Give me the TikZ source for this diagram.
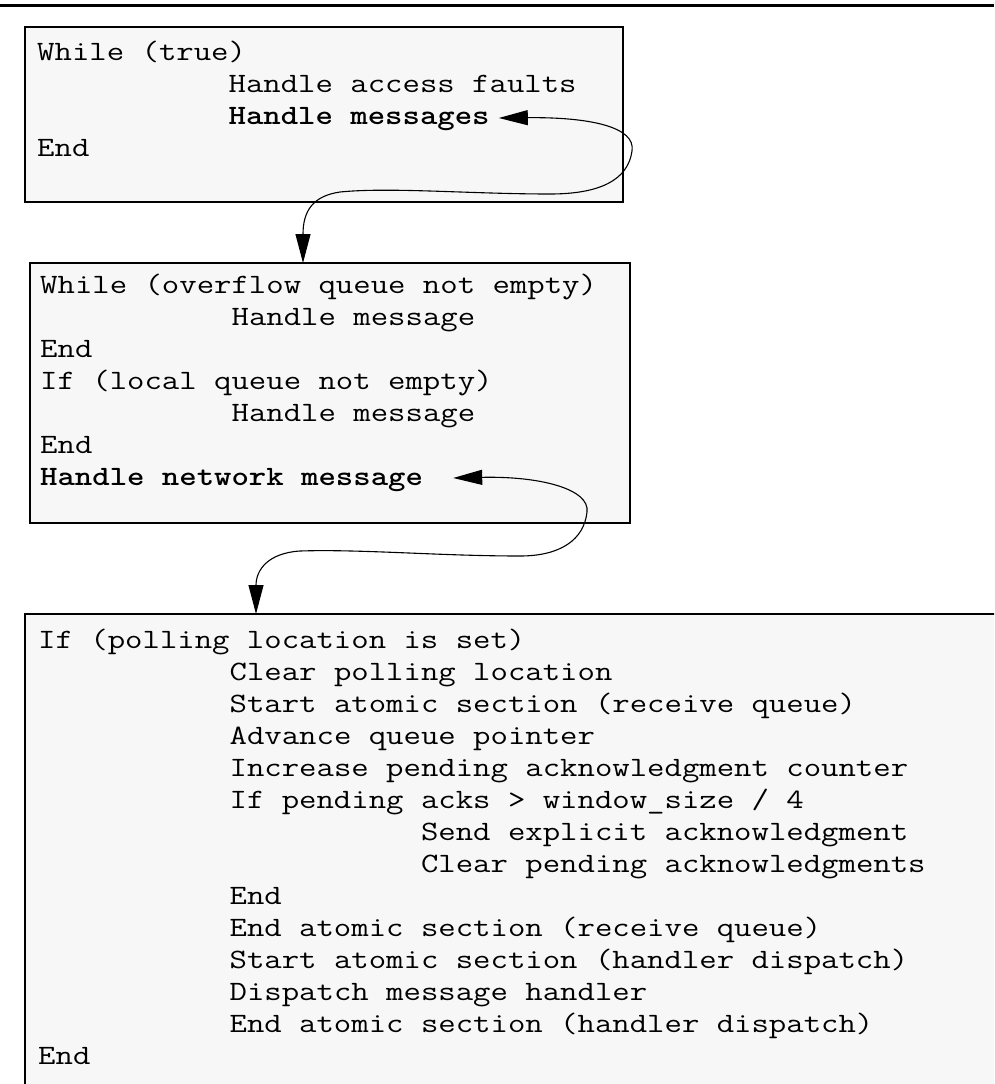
\documentclass[tikz,border=0pt]{standalone}
\usepackage{graphicx}
\usetikzlibrary{arrows.meta,calc}
\definecolor{boxfill}{RGB}{247,247,247}
\newlength\chwr
\newlength\chwb
\newcommand{\codefont}{\ttfamily\fontsize{28}{32}\selectfont}
\newcommand{\codeR}[1]{\scalebox{\xsr}[1]{\codefont #1}}
\newcommand{\codeB}[1]{\scalebox{\xsb}[1]{\codefont\bfseries #1}}
\begin{document}
\settowidth\chwr{\codefont M}%
\settowidth\chwb{\codefont\bfseries M}%
\pgfmathsetmacro\xsr{17.4/\chwr}%
\pgfmathsetmacro\xsb{17.4/\chwb}%
\begin{tikzpicture}[x=1pt,y=-1pt]
\useasboundingbox (0,0) rectangle (994,1084);
\tikzset{
  code/.style={anchor=base west, inner sep=0pt},
  box/.style={draw=black, line width=2.2pt, fill=boxfill, inner sep=0pt, outer sep=0pt, anchor=north west},
  conn/.style={line width=1.1pt, {Triangle[length=29pt,width=15pt]}-{Triangle[length=29pt,width=15pt]}},
}
% top rule
\draw[line width=3.5pt] (0,5.5) -- (994,5.5);
% boxes
\node[box, minimum width=598pt, minimum height=175pt] (box1) at (25,27) {};
\node[box, minimum width=600pt, minimum height=260pt] (box2) at (30,263) {};
\begin{scope}
\clip (0,0) rectangle (994,1084);
\node[fill=boxfill, inner sep=0pt, outer sep=0pt, anchor=north west, minimum width=1000pt, minimum height=500pt] (box3) at (25,614) {};
\draw[line width=2.2pt] (box3.south west) -- (box3.north west) -- (box3.north east);
\end{scope}
% box 1 text
\node[code] (l11) at (37,60) {\codeR{While (true)}};
\node[code] (l12) at (228.4,92) {\codeR{Handle access faults}};
\node[code] (hm) at (228.4,124) {\codeB{Handle messages}};
\node[code] (l14) at (37,156) {\codeR{End}};
% box 2 text
\node[code] (l21) at (40,293) {\codeR{While (overflow queue not empty)}};
\node[code] (l22) at (231.4,325) {\codeR{Handle message}};
\node[code] (l23) at (40,357) {\codeR{End}};
\node[code] (l24) at (40,389) {\codeR{If (local queue not empty)}};
\node[code] (l25) at (231.4,421) {\codeR{Handle message}};
\node[code] (l26) at (40,453) {\codeR{End}};
\node[code] (hnm) at (40,485) {\codeB{Handle network message}};
% box 3 text
\node[code] (l31) at (38,648) {\codeR{If (polling location is set)}};
\node[code] (l32) at (229.4,680) {\codeR{Clear polling location}};
\node[code] (l33) at (229.4,712) {\codeR{Start atomic section (receive queue)}};
\node[code] (l34) at (229.4,744) {\codeR{Advance queue pointer}};
\node[code] (l35) at (229.4,776) {\codeR{Increase pending acknowledgment counter}};
\node[code] (l36) at (229.4,808) {\codeR{If pending acks > window\_size / 4}};
\node[code] (l37) at (420.8,840) {\codeR{Send explicit acknowledgment}};
\node[code] (l38) at (420.8,872) {\codeR{Clear pending acknowledgments}};
\node[code] (l39) at (229.4,904) {\codeR{End}};
\node[code] (l310) at (229.4,936) {\codeR{End atomic section (receive queue)}};
\node[code] (l311) at (229.4,968) {\codeR{Start atomic section (handler dispatch)}};
\node[code] (l312) at (229.4,1000) {\codeR{Dispatch message handler}};
\node[code] (l313) at (229.4,1032) {\codeR{End atomic section (handler dispatch)}};
\node[code] (l314) at (38,1064) {\codeR{End}};
% connector end points
\coordinate (hmtip) at ($(hm.base east)+(9,-6)$);
\coordinate (b2tip) at ($(box2.north west)+(273,0)$);
\coordinate (hnmtip) at ($(hnm.base east)+(30,-7)$);
\coordinate (b3tip) at ($(box3.north west)+(231,0)$);
% connectors
\draw[conn] (hmtip) .. controls (590,117) and (636,127) .. (632,151)
  .. controls (628,180) and (600,194) .. (550,194)
  .. controls (470,194) and (390,187) .. (340,192)
  .. controls (312,196) and (303,212) .. (b2tip);
\draw[conn] (hnmtip) .. controls (540,476) and (590,489) .. (587,512)
  .. controls (584,540) and (560,556) .. (520,556)
  .. controls (440,556) and (360,549) .. (300,551)
  .. controls (268,553) and (256,570) .. (b3tip);
\end{tikzpicture}
\end{document}
